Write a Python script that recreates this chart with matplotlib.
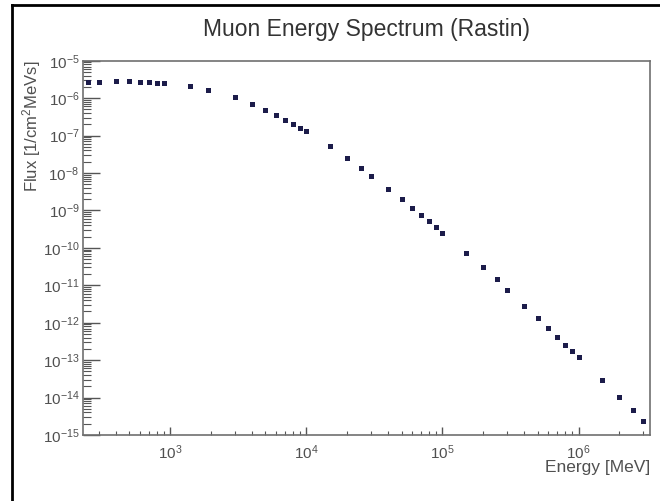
import numpy as np
import matplotlib
matplotlib.use('Agg')
import matplotlib.pyplot as plt
from matplotlib.ticker import LogLocator, NullFormatter
from matplotlib.lines import Line2D

plt.rcParams['font.family'] = ['Liberation Sans', 'DejaVu Sans']
plt.rcParams['mathtext.default'] = 'regular'

# ============================================================
# 数据 (Rastin muon spectrum)
# ============================================================
energy_mev = [250, 300, 400, 500, 600, 700, 800, 900,
              1400, 1900, 3000, 4000, 5000, 6000, 7000, 8000, 9000,
              1.0e4, 1.5e4, 2.0e4, 2.5e4, 3.0e4, 4.0e4, 5.0e4, 6.0e4,
              7.0e4, 8.0e4, 9.0e4,
              1.0e5, 1.5e5, 2.0e5, 2.5e5, 3.0e5, 4.0e5, 5.0e5, 6.0e5,
              7.0e5, 8.0e5, 9.0e5,
              1.0e6, 1.5e6, 2.0e6, 2.5e6, 3.0e6]
flux = [2.7e-6, 2.7e-6, 2.8e-6, 2.8e-6, 2.75e-6, 2.64e-6, 2.58e-6, 2.49e-6,
        2.11e-6, 1.62e-6, 1.05e-6, 7.07e-7, 4.81e-7, 3.53e-7, 2.6e-7, 2.03e-7, 1.64e-7,
        1.29e-7, 5.24e-8, 2.46e-8, 1.38e-8, 8.26e-9, 3.71e-9, 1.97e-9, 1.17e-9,
        7.63e-10, 5.17e-10, 3.64e-10,
        2.51e-10, 7.34e-11, 3.0e-11, 1.43e-11, 7.53e-12, 2.88e-12, 1.34e-12, 7.13e-13,
        4.17e-13, 2.61e-13, 1.76e-13,
        1.2e-13, 2.9e-14, 1.04e-14, 4.67e-15, 2.43e-15]

TITLE   = "Muon Energy Spectrum (Rastin)"
X_TITLE = "Energy [MeV]"
Y_TITLE = "Flux [1/cm$^{2}$MeVs]"

FRAME_C = '#707070'
TEXT_C  = '#505050'

fig = plt.figure(figsize=(6.6, 5.01), dpi=100)
ax = fig.add_axes([0.1265, 0.1317, 0.8583, 0.7471])

ax.plot(energy_mev, flux, linestyle='none', marker='s', markersize=3.6,
        color='#1c1c4a', markeredgewidth=0)

ax.set_xscale('log')
ax.set_yscale('log')
ax.set_xlim(230, 3.35e6)
ax.set_ylim(1e-15, 1e-5)

# ── ticks (ROOT 风格：向内，只有左/下) ─────────────────────
ax.xaxis.set_major_locator(LogLocator(base=10, numticks=20))
ax.yaxis.set_major_locator(LogLocator(base=10, numticks=20))
ax.xaxis.set_minor_locator(LogLocator(base=10, subs=np.arange(2, 10), numticks=100))
ax.yaxis.set_minor_locator(LogLocator(base=10, subs=np.arange(2, 10), numticks=100))
ax.xaxis.set_minor_formatter(NullFormatter())
ax.yaxis.set_minor_formatter(NullFormatter())

ax.tick_params(axis='both', which='both', direction='in', color='#555555',
               labelcolor=TEXT_C, labelsize=11, top=False, right=False)
ax.tick_params(axis='y', which='major', length=12, width=1.0, pad=3)
ax.tick_params(axis='y', which='minor', length=6, width=0.8)
ax.tick_params(axis='x', which='major', length=6, width=1.0, pad=6)
ax.tick_params(axis='x', which='minor', length=3, width=0.8)

for sp in ax.spines.values():
    sp.set_color(FRAME_C)
    sp.set_linewidth(1.2)

# ── 标题与轴标题 ─────────────────────────────────────────
fig.text(0.5556, 0.9407, TITLE, ha='center', va='center', fontsize=16.5, color='#333333')
ax.set_xlabel(X_TITLE, loc='right', fontsize=12.5, color=TEXT_C)
ax.xaxis.set_label_coords(1.0, -0.068)
ax.set_ylabel(Y_TITLE, loc='top', fontsize=12, color=TEXT_C)
ax.yaxis.set_label_coords(-0.072, 1.0)

# 外框（图片左/上边的黑线）
fig.add_artist(Line2D([12 / 660, 12 / 660], [0, 1 - 5 / 501],
                      transform=fig.transFigure, color='black', linewidth=2))
fig.add_artist(Line2D([12 / 660, 1], [1 - 5 / 501, 1 - 5 / 501],
                      transform=fig.transFigure, color='black', linewidth=2))

fig.savefig('out.png', dpi=100)
